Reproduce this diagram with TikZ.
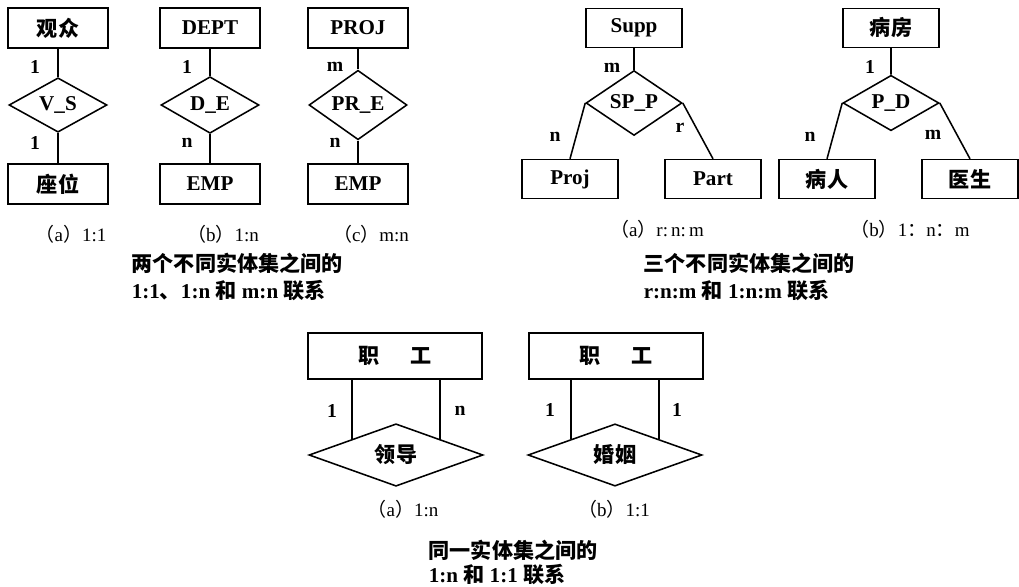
\documentclass[tikz,border=0pt]{standalone}
\usepackage{fontspec}
\setmainfont{Liberation Serif}
\newfontfamily\cjk{Noto Sans CJK SC}
\usetikzlibrary{shapes.geometric}
\newcommand\zlp{{\cjk （}}
\newcommand\zrp{{\cjk ）}}
\newcommand\zh[1]{{\cjk #1}}
\tikzset{
  ent/.style={draw,minimum width=2.5cm,minimum height=1cm,inner sep=0pt,font=\fontsize{15}{15}\selectfont\bfseries},
  rel/.style={draw,diamond,minimum width=2.45cm,minimum height=1.15cm,inner sep=0pt,font=\fontsize{15}{15}\selectfont\bfseries},
  lab/.style={font=\fontsize{14}{14}\selectfont\bfseries},
  capt/.style={font=\fontsize{13.5}{13.5}\selectfont},
  txt/.style={align=left,anchor=west,inner sep=0pt,font=\bfseries}
}
\begin{document}
\begin{tikzpicture}[x=0.025cm,y=-0.025cm,line width=1.1pt]
\useasboundingbox (0,0) rectangle (1019,586);
% two different entity sets
\foreach \x/\a/\r/\b/\ma/\mb/\c[count=\i] in {58/\zh{观众}/V\_S/\zh{座位}/1/1/{\zlp a\zrp 1:1},210/DEPT/D\_E/EMP/1/n/{\zlp b\zrp 1:n},358/PROJ/PR\_E/EMP/m/n/{\zlp c\zrp m:n}}{
	\node[ent] (t\i) at (\x,28) {\a};
	\node[rel] (r\i) at (\x,105) {\r};
	\node[ent] (b\i) at (\x,184) {\b};
	\draw (t\i)--(r\i)--(b\i);
	\node[lab] (la\i) at (\x-23,67) {\ma};
	\node[lab] (lb\i) at (\x-23,143) {\mb};
	\node[capt] (c\i) at (\x+13,234) {\c};
}
\node[txt,font=\fontsize{15}{19}\selectfont\bfseries] (txta) at (131,277) {\zh{两个不同实体集之间的}\\1:1\zh{、}1:n \zh{和} m:n \zh{联系}};
% three different entity sets
\begin{scope}[ent/.append style={minimum width=2.4cm,minimum height=.97cm},rel/.append style={minimum width=2.4cm,minimum height=1.12cm}]
	\node[ent] (supp) at (634,28) {Supp};
	\node[rel] (spp) at (634,103) {SP\_P};
	\node[ent] (proj) at (570,179) {Proj};
	\node[ent] (part) at (713,179) {Part};
	\node[ent] (ward) at (891,28) {\zh{病房}};
	\node[rel] (pd) at (891,103) {P\_D};
	\node[ent] (pat) at (827,179) {\zh{病人}};
	\node[ent] (doc) at (970,179) {\zh{医生}};
\end{scope}
\draw (supp)--(spp) (spp.west)--(proj.north) (spp.east)--(part.north);
\draw (ward)--(pd) (pd.west)--(pat.north) (pd.east)--(doc.north);
\foreach \x/\y/\gt[count=\i] in {612/68/m,555/137/n,680/128/r,870/67/1,810/137/n,933/135/m}\node[lab] (l\i) at (\x,\y) {\gt};
\node[capt] (capa) at (657,229) {\zlp a\zrp r:\,n:\,m};
\node[capt] (capb) at (910,229) {\zlp b\zrp 1\zh{：}n\zh{：}m};
\node[txt,font=\fontsize{15}{19}\selectfont\bfseries] (txtb) at (643,277) {\zh{三个不同实体集之间的}\\r:n:m \zh{和} 1:n:m \zh{联系}};
% one entity set
\begin{scope}[ent/.append style={minimum width=4.35cm,minimum height=1.15cm},rel/.append style={minimum width=4.35cm,minimum height=1.45cm}]
	\node[ent] (emp1) at (395,356) {\zh{职\hspace{1.5em}工}};
	\node[rel] (lead) at (396,455) {\zh{领导}};
	\node[ent] (emp2) at (616,356) {\zh{职\hspace{1.5em}工}};
	\node[rel] (marr) at (615,455) {\zh{婚姻}};
\end{scope}
\draw (lead.north west |- emp1.south)--(lead.north west) (lead.north east |- emp1.south)--(lead.north east);
\draw (marr.north west |- emp2.south)--(marr.north west) (marr.north east |- emp2.south)--(marr.north east);
\foreach \x/\y/\gt[count=\i] in {332/411/1,460/411/n,550/410/1,677/410/1}\node[lab] (s\i) at (\x,\y) {\gt};
\node[capt] (capc) at (403,509) {\zlp a\zrp 1:n};
\node[capt] (capd) at (614,509) {\zlp b\zrp 1:1};
\node[txt,font=\fontsize{15}{17}\selectfont\bfseries] (txtc) at (428,562) {\zh{同一实体集之间的}\\1:n \zh{和} 1:1 \zh{联系}};
\end{tikzpicture}
\end{document}
